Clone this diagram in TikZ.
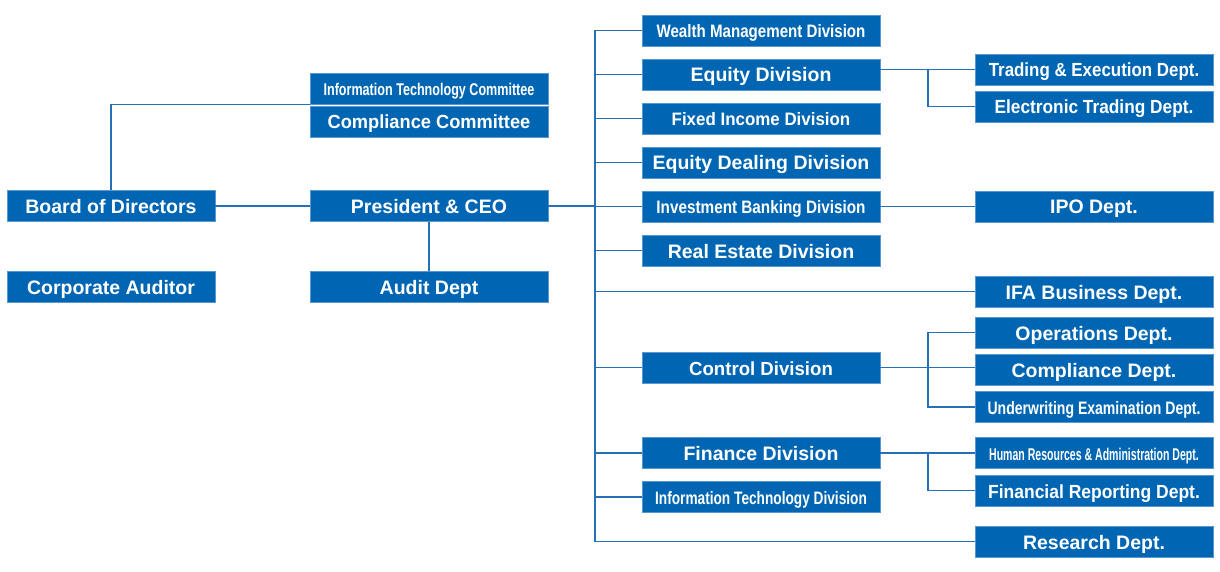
\documentclass[tikz,border=0pt]{standalone}
\usepackage{fontspec}
\usepackage{graphicx}
\setmainfont{Liberation Sans}
\definecolor{orgBlue}{RGB}{0, 102, 179}
\definecolor{orgLine}{RGB}{38, 112, 184}
\definecolor{orgEdge}{RGB}{90, 150, 210}
\newcommand{\squeeze}[3]{{\fontsize{#1}{#1}\selectfont\scalebox{#2}[1]{#3}}}

\begin{document}
\begin{tikzpicture}[x=1pt, y=-1pt,
    unit/.style={fill=orgBlue, draw=orgEdge, line width=0.6pt, text=white, inner sep=0pt,
        text height=15pt, text depth=0pt,
        minimum width=238pt, minimum height=31pt, font=\bfseries\fontsize{19.5}{20}\selectfont},
    topunit/.style={unit, minimum width=208pt},
    link/.style={draw=orgLine, line width=1.1pt}]
    \useasboundingbox (0,0) rectangle (1220,572);
    % left side
    \node[topunit] (board) at (111,206) {Board of Directors};
    \node[topunit] (corpaud) at (111,286.5) {Corporate Auditor};
    \node[unit] (itcom) at (429,88.5) {\squeeze{17}{0.74}{Information Technology Committee}};
    \node[unit] (compcom) at (429,121.5) {\squeeze{19}{0.96}{Compliance Committee}};
    \node[unit] (ceo) at (429,206) {President \& CEO};
    \node[unit] (audit) at (429,286.5) {Audit Dept};
    % divisions
    \node[unit] (wealth) at (761,30.5) {\squeeze{18}{0.84}{Wealth Management Division}};
    \node[unit] (equity) at (761,74.5) {Equity Division};
    \node[unit] (fixinc) at (761,118.5) {\squeeze{18}{0.94}{Fixed Income Division}};
    \node[unit] (eqdeal) at (761,162.5) {Equity Dealing Division};
    \node[unit] (invbank) at (761,206.5) {\squeeze{18}{0.85}{Investment Banking Division}};
    \node[unit] (realest) at (761,250.5) {Real Estate Division};
    \node[unit] (control) at (761,367.5) {\squeeze{19}{0.98}{Control Division}};
    \node[unit] (finance) at (761,453) {Finance Division};
    \node[unit] (itdiv) at (761,497) {\squeeze{18}{0.76}{Information Technology Division}};
    % departments
    \node[unit] (trading) at (1094,69.5) {\squeeze{19}{0.89}{Trading \& Execution Dept.}};
    \node[unit] (etrade) at (1094,106.5) {\squeeze{19}{0.91}{Electronic Trading Dept.}};
    \node[unit] (ipo) at (1094,206.5) {IPO Dept.};
    \node[unit] (ifa) at (1094,291.5) {IFA Business Dept.};
    \node[unit] (opdept) at (1094,332.5) {Operations Dept.};
    \node[unit] (compdept) at (1094,370) {Compliance Dept.};
    \node[unit] (uwdept) at (1094,407) {\squeeze{18}{0.78}{Underwriting Examination Dept.}};
    \node[unit] (hrdept) at (1094,453) {\squeeze{17}{0.62}{Human Resources \& Administration Dept.}};
    \node[unit] (frdept) at (1094,490.5) {\squeeze{19}{0.92}{Financial Reporting Dept.}};
    \node[unit] (research) at (1094,541.5) {Research Dept.};
    \coordinate (trunk) at (595,0);
    \coordinate (bus) at (928,0);
    % connectors
    \draw[link] (board.north) |- (itcom.south west);
    \draw[link] (board.east) -- (ceo.west);
    \draw[link] (ceo.south) -- (audit.north);
    \draw[link] (ceo.east) -- (ceo.east -| trunk);
    \draw[link] (wealth.west) -- (wealth.west -| trunk) -- (research.west -| trunk) -- (research.west);
    \foreach \d in {equity, fixinc, eqdeal, invbank, realest, control, finance, itdiv, ifa}
        \draw[link] (\d.west) -- (\d.west -| trunk);
    \draw[link] (trading.west -| equity.east) -- (trading.west);
    \draw[link] (trading.west -| bus) -- (etrade.west -| bus) -- (etrade.west);
    \draw[link] (invbank.east) -- (ipo.west);
    \draw[link] (control.east) -- (control.east -| compdept.west);
    \draw[link] (opdept.west) -- (opdept.west -| bus) -- (uwdept.west -| bus) -- (uwdept.west);
    \draw[link] (finance.east) -- (hrdept.west);
    \draw[link] (finance.east -| bus) -- (frdept.west -| bus) -- (frdept.west);
\end{tikzpicture}
\end{document}
